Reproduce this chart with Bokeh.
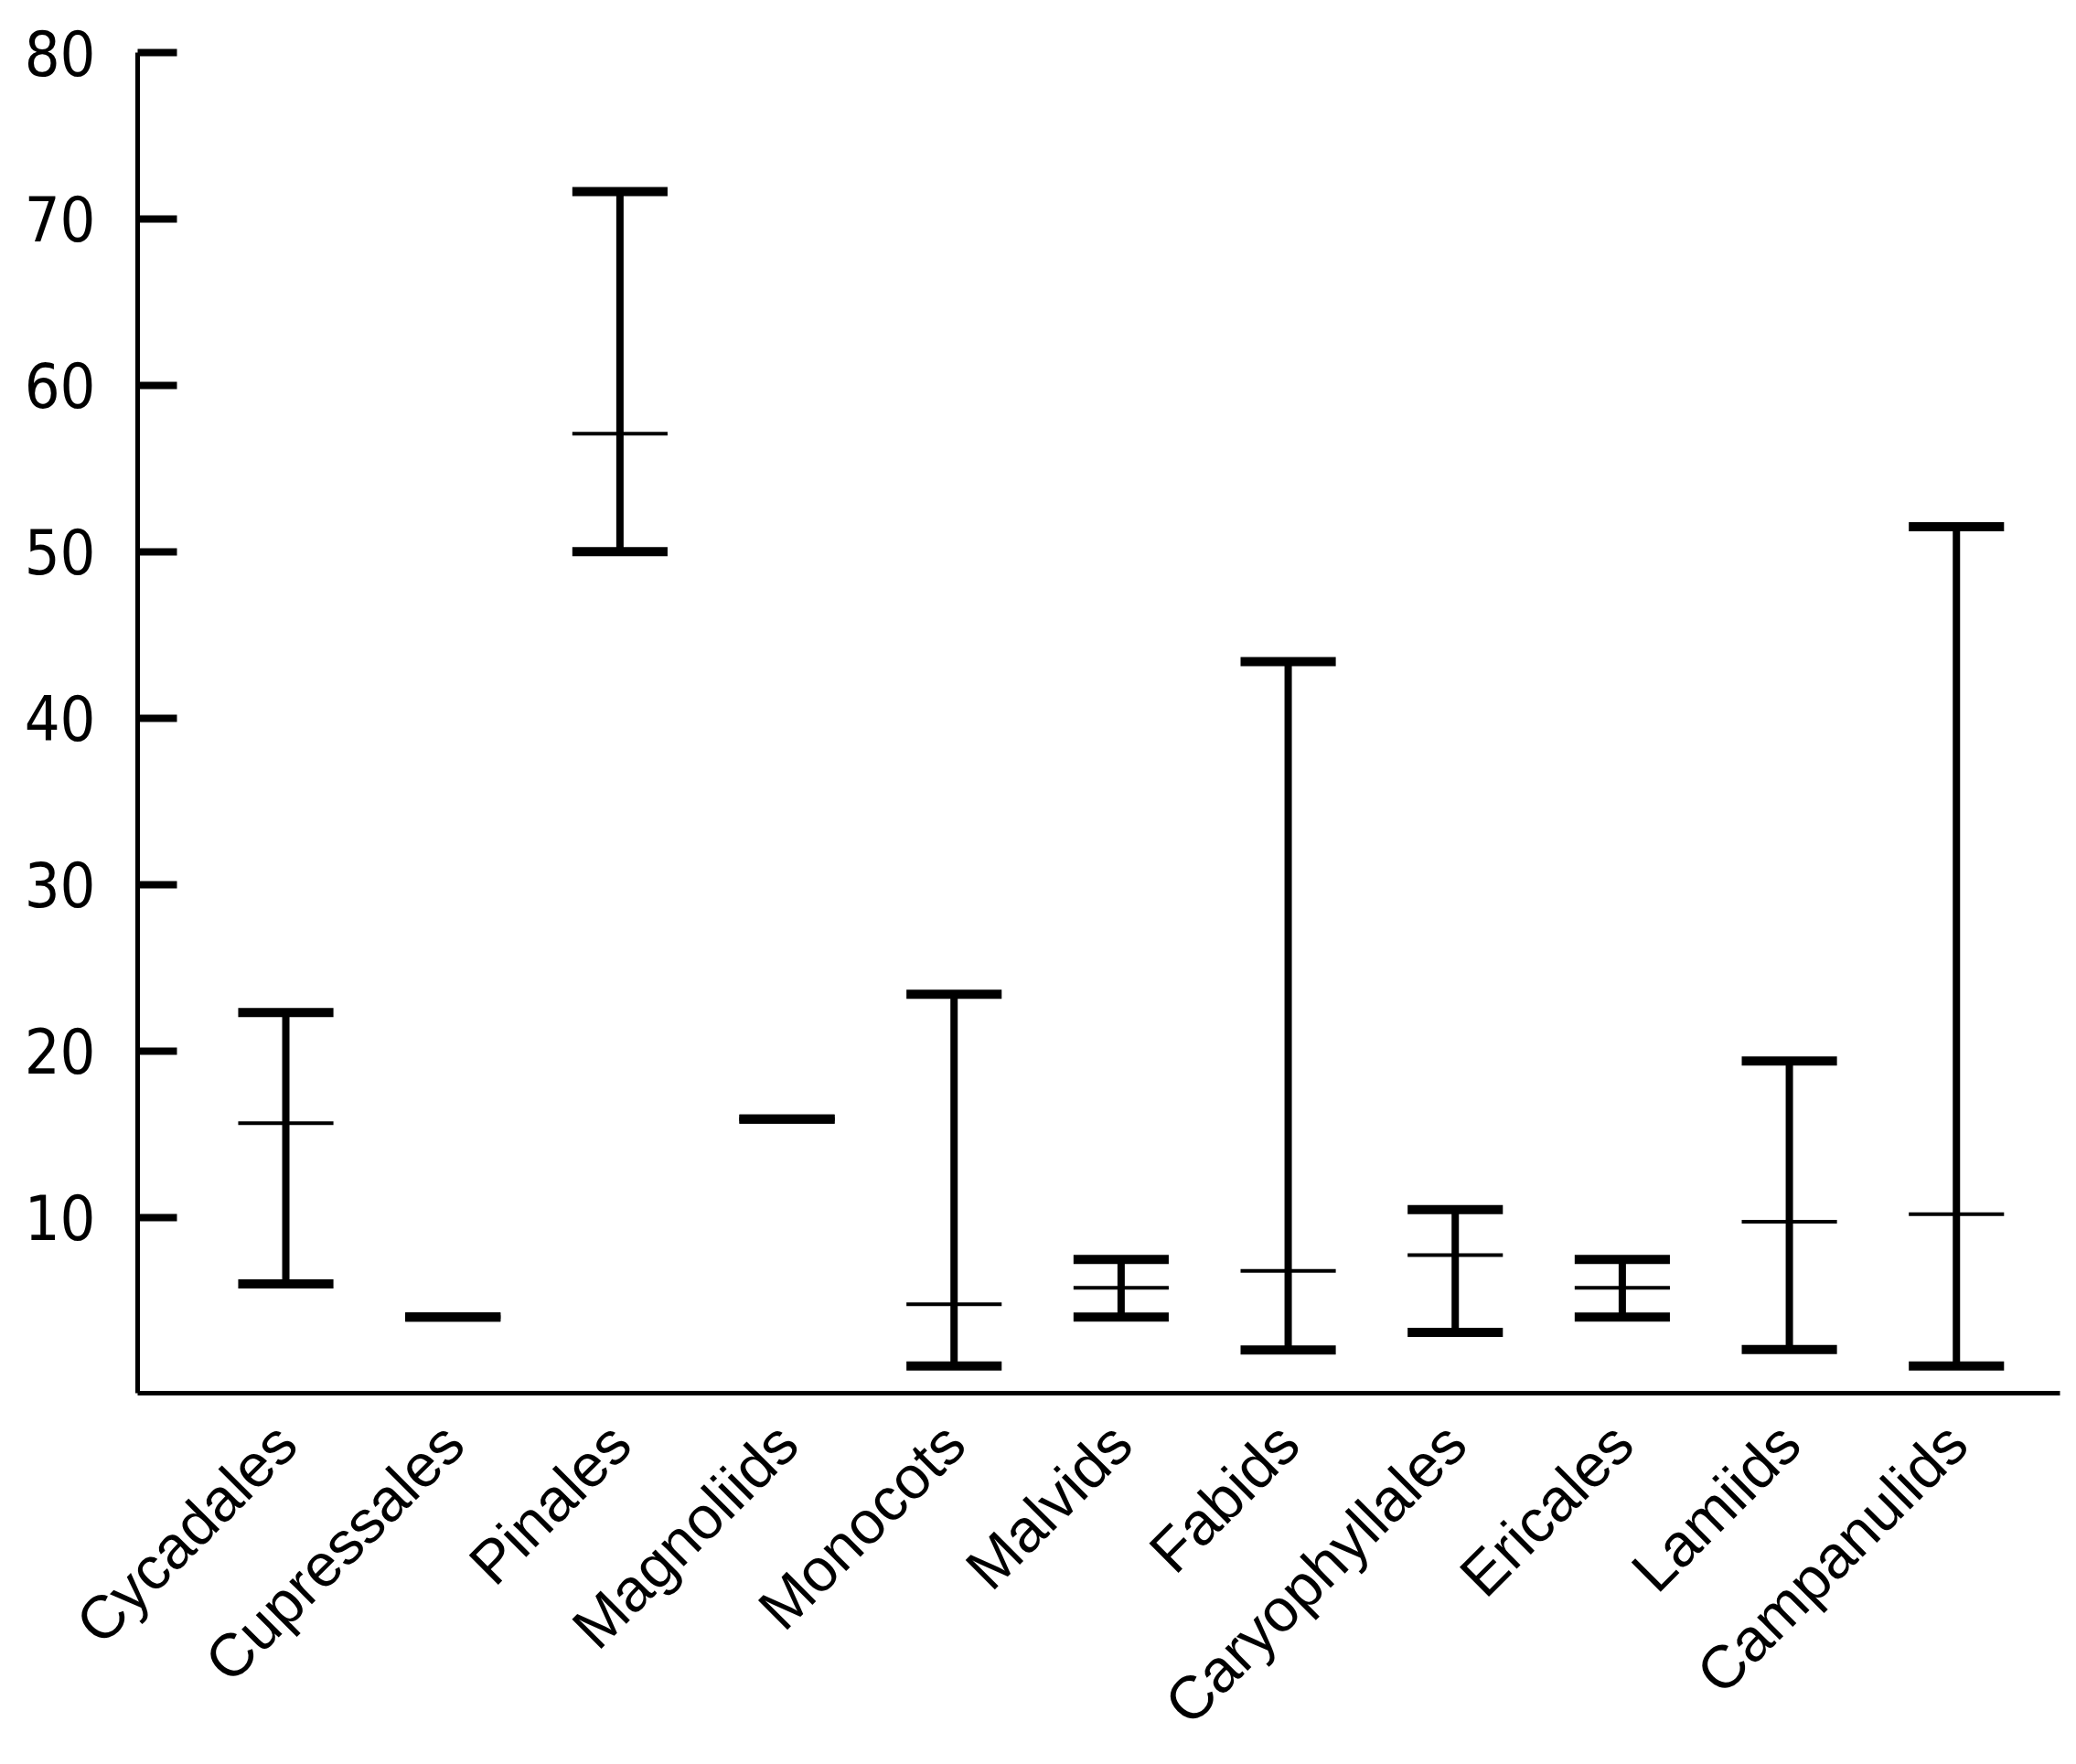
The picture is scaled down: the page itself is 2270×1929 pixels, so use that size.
import math
import numpy as np
from bokeh.plotting import figure
from bokeh.models import FixedTicker, Range1d, ColumnDataSource
from bokeh.embed import file_html
from bokeh.resources import INLINE

categories = ["Cycadales", "Cupressales", "Pinales", "Magnoliids", "Monocots",
              "Malvids", "Fabids", "Caryophyllales", "Ericales", "Lamiids",
              "Campanulids"]
low = [6.0, 4.0, 50.0, 15.9, 1.07, 4.0, 2.02, 3.08, 4.0, 2.05, 1.07]
mid = [15.65, 4.0, 57.1, 15.9, 4.77, 5.77, 6.78, 7.73, 5.77, 9.73, 10.19]
high = [22.3, 4.0, 71.65, 15.9, 23.4, 7.47, 43.4, 10.46, 7.47, 19.4, 51.5]
y_ticks = [10, 20, 30, 40, 50, 60, 70, 80]

x = np.arange(len(categories), dtype=float)
hw = 0.285

src = ColumnDataSource(dict(x=x, x0=x - hw, x1=x + hw, low=low, mid=mid, high=high))

p = figure(width=2262, height=1929,
           x_range=Range1d(-0.887, 10.62), y_range=Range1d(-0.57, 80),
           output_backend="svg", toolbar_location=None,
           min_border_left=150, min_border_top=57, min_border_right=10,
           min_border_bottom=406)
p.outline_line_color = None
p.grid.visible = False
p.background_fill_color = "white"
p.border_fill_color = "white"

p.segment('x', 'low', 'x', 'high', source=src, line_width=8, line_color='black', line_cap='butt')
p.segment('x0', 'low', 'x1', 'low', source=src, line_width=10, line_color='black', line_cap='butt')
p.segment('x0', 'high', 'x1', 'high', source=src, line_width=10, line_color='black', line_cap='butt')
p.segment('x0', 'mid', 'x1', 'mid', source=src, line_width=4, line_color='black', line_cap='butt')

ya = p.yaxis[0]
ya.ticker = FixedTicker(ticks=y_ticks)
ya.major_tick_in = 43
ya.major_tick_out = 0
ya.major_tick_line_width = 8
ya.minor_tick_line_color = None
ya.axis_line_width = 5
ya.major_label_text_font = "DejaVu Sans Condensed, DejaVu Sans"
ya.major_label_text_font_size = "68px"
ya.major_label_text_color = "black"
ya.major_label_standoff = 46

xa = p.xaxis[0]
xa.ticker = FixedTicker(ticks=list(range(len(categories))))
xa.major_label_overrides = {i: c for i, c in enumerate(categories)}
xa.major_tick_in = 0
xa.major_tick_out = 0
xa.major_tick_line_color = None
xa.minor_tick_line_color = None
xa.axis_line_width = 5
xa.major_label_orientation = math.pi / 4
xa.major_label_text_font = "Liberation Sans"
xa.major_label_text_font_size = "66px"
xa.major_label_text_color = "black"
xa.major_label_standoff = 44

open("out.html", "w").write(file_html(p, INLINE))
